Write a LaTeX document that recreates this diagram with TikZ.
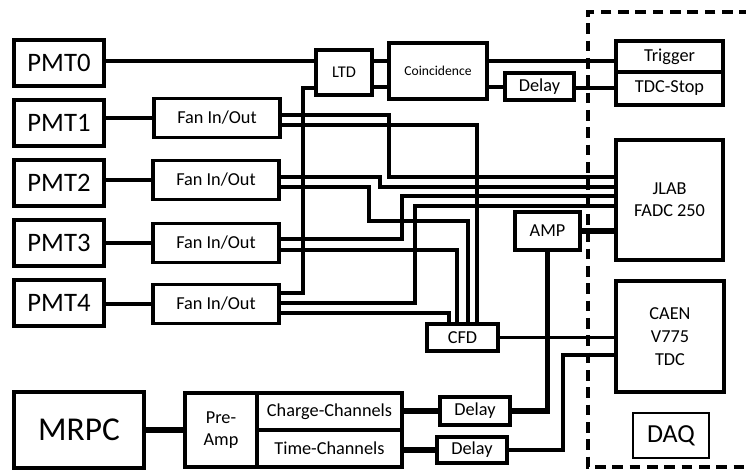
\documentclass[tikz,border=0pt]{standalone}
\usepackage{fontspec}
\setmainfont{Carlito}

\begin{document}
\begin{tikzpicture}[x=0.75pt,y=-0.75pt,
  box/.style={draw,line width=2.7pt,inner sep=0pt,align=center,
    font=\fontsize{13.7}{16.5}\selectfont},
  sz/.style 2 args={minimum width=#1*0.75pt,minimum height=#2*0.75pt},
  pmt/.style={box,sz={90}{46},font=\fontsize{20}{24}\selectfont},
  fan/.style={box,sz={126}{39}},
  wire/.style={line width=2.7pt},
  fat/.style={line width=4.2pt}]
  \useasboundingbox (0,0) rectangle (746,470);

  % DAQ crate
  \draw[line width=2.7pt,dash pattern=on 8pt off 5pt] (750,12) -| (588,467) -- (750,467);

  % detectors
  \node[pmt] (pmt0) at (59,63) {PMT0};
  \node[pmt] (pmt1) at (59,123) {PMT1};
  \node[pmt] (pmt2) at (59,183) {PMT2};
  \node[pmt] (pmt3) at (59,243) {PMT3};
  \node[pmt] (pmt4) at (59,303) {PMT4};
  \node[box,sz={130}{76},font=\fontsize{25}{30}\selectfont] (mrpc) at (79,430) {MRPC};

  % fan in/out
  \node[fan] (fan1) at (217,118) {Fan In/Out};
  \node[fan] (fan2) at (216,180) {Fan In/Out};
  \node[fan] (fan3) at (216,243) {Fan In/Out};
  \node[fan] (fan4) at (216,304) {Fan In/Out};

  % trigger logic
  \node[box,sz={56}{45},font=\fontsize{12.3}{15}\selectfont] (ltd) at (344,72.5) {LTD};
  \node[box,sz={98}{56},font=\fontsize{10.2}{12}\selectfont] (coinc) at (438,71) {Coincidence};
  \node[box,sz={69}{27}] (dly0) at (539.5,86.5) {Delay};
  \node[box,sz={107}{31}] (trig) at (669.5,56.5) {Trigger};
  \node[box,sz={107}{33}] (stop) at (669.5,88.5) {TDC-Stop};

  % digitizers
  \node[box,sz={107}{120}] (fadc) at (669.5,200) {JLAB\\FADC 250};
  \node[box,sz={108}{111},font=\fontsize{13.7}{17}\selectfont] (caen) at (670,336.5) {CAEN\\V775\\TDC};
  \node[draw,line width=1.2pt,sz={76}{45},font=\fontsize{19.5}{23}\selectfont] (daq) at (671,435.5) {DAQ};
  \node[box,sz={65}{38}] (amp) at (547.5,231) {AMP};
  \node[box,sz={71}{27}] (cfd) at (462.5,337.5) {CFD};

  % mrpc readout
  \node[box,sz={72}{74}] (pre) at (221,430) {Pre-\\Amp};
  \node[box,sz={145}{37}] (chq) at (329.5,411.5) {Charge-Channels};
  \node[box,sz={145}{37}] (cht) at (329.5,448.5) {Time-Channels};
  \node[box,sz={70}{28}] (dly1) at (475,411) {Delay};
  \node[box,sz={70}{26}] (dly2) at (472,450) {Delay};

  % trigger path
  \draw[wire] (pmt0.east |- 0,61) -- (ltd.west |- 0,61);
  \draw[wire] (ltd.east |- 0,61) -- (coinc.west |- 0,61);
  \draw[wire] (ltd.east |- 0,87) -- (coinc.west |- 0,87);
  \draw[wire] (coinc.east |- 0,61) -- (trig.west |- 0,61);
  \draw[wire] (coinc.east |- 0,87) -- (dly0.west |- 0,87);
  \draw[wire] (dly0.east |- 0,88) -- (stop.west |- 0,88);

  % pmt to fan
  \draw[wire] (fan1.west -| pmt1.east) -- (fan1.west);
  \draw[wire] (fan2.west -| pmt2.east) -- (fan2.west);
  \draw[wire] (fan3.west -| pmt3.east) -- (fan3.west);
  \draw[wire] (fan4.west -| pmt4.east) -- (fan4.west);

  % fan outputs
  \draw[wire] (fan1.east |- 0,115) -| (389,177) -- (fadc.west |- 0,177);
  \draw[wire] (fan1.east |- 0,125) -| (cfd.north -| 477,0);
  \draw[wire] (fan2.east |- 0,177) -| (380,187) -- (fadc.west |- 0,187);
  \draw[wire] (fan2.east |- 0,187) -| (369,221) -| (cfd.north -| 468,0);
  \draw[wire] (fan3.east |- 0,239) -| (402,196) -- (fadc.west |- 0,196);
  \draw[wire] (fan3.east |- 0,250) -| (cfd.north -| 457,0);
  \draw[wire] (fan4.east |- 0,293) -| (303,88) -- (ltd.west |- 0,88);
  \draw[wire] (fan4.east |- 0,303) -| (415,206) -- (fadc.west |- 0,206);
  \draw[wire] (fan4.east |- 0,313) -| (cfd.north -| 449,0);
  \draw[wire] (cfd.east) -- (cfd.east -| caen.west);

  % mrpc chain
  \draw[fat] (mrpc.east) -- (pre.west |- mrpc.east);
  \draw[fat] (chq.east |- dly1.west) -- (dly1.west);
  \draw[fat] (cht.east |- dly2.west) -- (dly2.west);
  \draw[fat] (dly1.east) -| (amp.south);
  \draw[fat] (amp.east) -- (amp.east -| fadc.west);
  \draw[wire] (dly2.east) -| (563,355) -- (caen.west |- 0,355);
\end{tikzpicture}
\end{document}
